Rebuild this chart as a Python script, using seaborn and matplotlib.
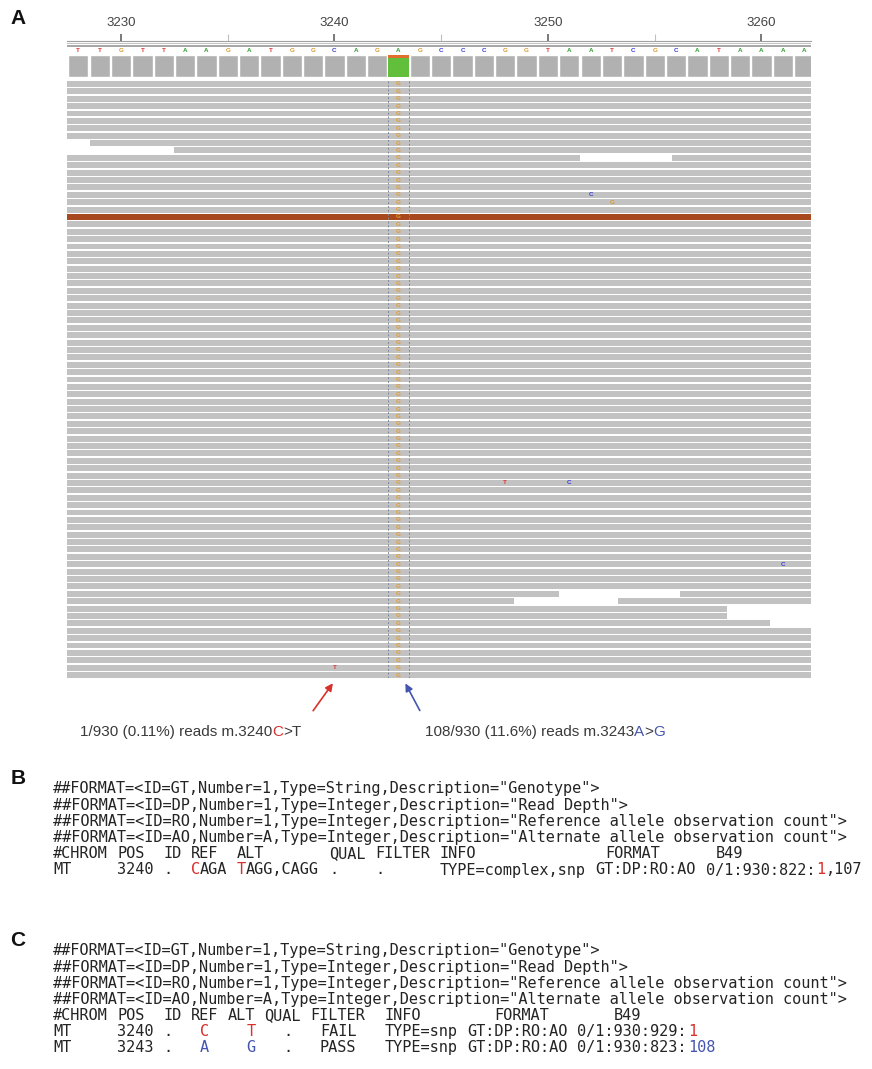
import matplotlib
matplotlib.use("Agg")
import matplotlib.pyplot as plt
import pandas as pd
import seaborn as sns

# IGV window (mitochondrial reference, rCRS)
ref_start = 3228
ref_seq = "TTGTTAAGATGGCAGAGCCCGGTAATCGCATAAAA"
view_start, view_end = 3227.47, 3262.32
major_ticks = [3230, 3240, 3250, 3260]
minor_ticks = [3235, 3245, 3255]

# coverage track
depth = 930
alt_pos = 3243
alt_count = 108
low_pos = 3240

# reads (rows of the collapsed alignment)
n_rows = 81
brown_row = 18
gap_rows = [8, 9, 10, 69, 70, 71, 72, 73]
gap_starts = [3227.47, 3227.47, 3251.5, 3250.5, 3248.4, 3258.4, 3258.4, 3260.4]
gap_ends = [3228.55, 3232.5, 3255.8, 3256.2, 3253.3, 3262.32, 3262.32, 3262.32]

# isolated mismatches in reads
mm_rows = [15, 16, 54, 54, 65, 79]
mm_pos = [3252, 3253, 3248, 3251, 3261, 3240]
mm_base = ["C", "G", "T", "C", "C", "T"]

# captions under the alignment
cap_left = [("1/930 (0.11%) reads m.3240", None), ("C", "red"), (">T", None)]
cap_right = [("108/930 (11.6%) reads m.3243", None), ("A", "blue"), (">", None), ("G", "blue")]

# VCF text
meta_lines = [
    '##FORMAT=<ID=GT,Number=1,Type=String,Description="Genotype">',
    '##FORMAT=<ID=DP,Number=1,Type=Integer,Description="Read Depth">',
    '##FORMAT=<ID=RO,Number=1,Type=Integer,Description="Reference allele observation count">',
    '##FORMAT=<ID=AO,Number=A,Type=Integer,Description="Alternate allele observation count">',
]
b_header = ["#CHROM", "POS", "ID", "REF", "ALT", "QUAL", "FILTER", "INFO", "FORMAT", "B49"]
b_header_cols = [0, 7, 12, 15, 20, 30, 35, 42, 60, 72]
b_row = ["MT", "3240", ".", "CAGA", "TAGG,CAGG", ".", ".", "TYPE=complex,snp", "GT:DP:RO:AO", "0/1:930:822:1,107"]
b_row_cols = [0, 7, 12, 15, 20, 30, 35, 42, 59, 71]
b_row_masks = {3: "r...", 4: "r........", 9: "............r...."}

c_header = ["#CHROM", "POS", "ID", "REF", "ALT", "QUAL", "FILTER", "INFO", "FORMAT", "B49"]
c_header_cols = [0, 7, 12, 15, 19, 23, 28, 36, 48, 61]
c_rows = [
    ["MT", "3240", ".", "C", "T", ".", "FAIL", "TYPE=snp", "GT:DP:RO:AO", "0/1:930:929:1"],
    ["MT", "3243", ".", "A", "G", ".", "PASS", "TYPE=snp", "GT:DP:RO:AO", "0/1:930:823:108"],
]
c_row_cols = [0, 7, 12, 16, 21, 25, 29, 36, 45, 57]
c_row_masks = [
    {3: "r", 4: "r", 9: "............r"},
    {3: "b", 4: "b", 9: "............bbb"},
]

base_colors = {"A": "#2e9e2e", "C": "#3b3bd0", "G": "#d99a2b", "T": "#e03232"}
mark_colors = {"r": "#d9302c", "b": "#4455b0", "red": "#d9302c", "blue": "#4455b0"}

sns.set_theme(style="white")
plt.rcParams["font.family"] = ["Liberation Sans", "DejaVu Sans"]

W, H = 872, 1069
fig = plt.figure(figsize=(W / 100, H / 100), dpi=100)
fig.patch.set_facecolor("white")


def px_axes(x0, y0, x1, y1):
    return fig.add_axes([x0 / W, 1 - y1 / H, (x1 - x0) / W, (y1 - y0) / H])


# background axes in pixel units, used for all free text
ax_bg = fig.add_axes([0, 0, 1, 1])
ax_bg.set_xlim(0, W)
ax_bg.set_ylim(H, 0)
ax_bg.axis("off")

for lab, (lx, ly) in zip("ABC", [(18, 19), (18, 778), (18, 940)]):
    ax_bg.text(lx, ly, lab, fontsize=15, fontweight="bold", ha="center", va="center", color="#111")

# ruler
ax_r = px_axes(67, 30, 811, 41)
ax_r.set_xlim(view_start, view_end)
ax_r.set_ylim(0, 1)
ax_r.patch.set_alpha(0)
for s in ["top", "left", "right"]:
    ax_r.spines[s].set_visible(False)
ax_r.spines["bottom"].set_color("#a0a0a0")
ax_r.spines["bottom"].set_linewidth(0.8)
ax_r.set_yticks([])
ax_r.set_xticks(major_ticks)
ax_r.set_xticks(minor_ticks, minor=True)
ax_r.tick_params(axis="x", which="major", direction="in", length=5, width=1.1, color="#555",
                 bottom=True, top=False, labelbottom=False, labeltop=True, pad=1,
                 labelsize=9.5, labelcolor="#444")
ax_r.tick_params(axis="x", which="minor", direction="in", length=5, width=0.8, color="#c0c0c0",
                 bottom=True, top=False)

# sequence track
ax_s = px_axes(67, 42, 811, 55)
ax_s.set_xlim(view_start, view_end)
ax_s.set_ylim(55, 42)
ax_s.axis("off")
ax_s.axhspan(43.2, 44.2, color="#c4c4c4", lw=0)
ax_s.axhspan(45.2, 46.8, color="#a8a8a8", lw=0)
for i, b in enumerate(ref_seq):
    ax_s.text(ref_start + i, 50.5, b, fontsize=4.5, fontweight="bold", color=base_colors[b],
              ha="center", va="center")

# coverage track
positions = list(range(ref_start, ref_start + len(ref_seq)))
cov = pd.DataFrame({"pos": positions, "depth": [depth] * len(positions)})
ax_c = px_axes(67, 55, 811, 77)
sns.barplot(data=cov, x="pos", y="depth", native_scale=True, width=0.95, color="#b1b1b1",
            saturation=1, errorbar=None, ax=ax_c)
ax_c.bar(alt_pos, depth - alt_count, width=0.95, color="#62bf3c", lw=0)
ax_c.bar(alt_pos, alt_count, bottom=depth - alt_count, width=0.95, color="#e0702c", lw=0)
ax_c.set_xlim(view_start, view_end)
ax_c.set_ylim(0, depth)
ax_c.axis("off")

# reads
ax_d = px_axes(67, 81, 811, 678)
ax_d.set_xlim(view_start, view_end)
ax_d.set_ylim(n_rows - 1 + 0.4, -0.4)
ax_d.axis("off")
gaps = pd.DataFrame({"row": gap_rows, "start": gap_starts, "end": gap_ends})
for row in range(n_rows):
    color = "#a8481e" if row == brown_row else "#c2c2c2"
    left = view_start
    for _, g in gaps[gaps["row"] == row].sort_values("start").iterrows():
        if g["start"] > left:
            ax_d.barh(row, g["start"] - left, left=left, height=0.8, color=color, lw=0)
        left = g["end"]
    if left < view_end:
        ax_d.barh(row, view_end - left, left=left, height=0.8, color=color, lw=0)
    ax_d.text(alt_pos, row, "G", fontsize=4.5, fontweight="bold", color="#e59a2c",
              ha="center", va="center")

for r, p, b in zip(mm_rows, mm_pos, mm_base):
    ax_d.text(p, r, b, fontsize=4.5, fontweight="bold", color=base_colors[b], ha="center", va="center")

for xv in [alt_pos - 0.5, alt_pos + 0.5]:
    ax_d.axvline(xv, color="#7c8796", lw=0.7, ls=(0, (2, 2)))

ybot = n_rows - 1 + 0.8
ax_d.annotate("", xy=(low_pos, ybot), xytext=(-23, -32), textcoords="offset pixels",
              annotation_clip=False,
              arrowprops=dict(arrowstyle="-|>", color=mark_colors["red"], lw=1.2, mutation_scale=11))
ax_d.annotate("", xy=(alt_pos + 0.26, ybot), xytext=(17, -32), textcoords="offset pixels",
              annotation_clip=False,
              arrowprops=dict(arrowstyle="-|>", color=mark_colors["blue"], lw=1.2, mutation_scale=11))


def rainbow(x, y, pieces):
    t = None
    for txt, col in pieces:
        c = mark_colors[col] if col else "#3a3a3a"
        if t is None:
            t = ax_bg.text(x, y, txt, fontsize=11, color=c, va="center")
        else:
            t = ax_bg.annotate(txt, xycoords=t, xy=(1, 0), va="bottom", fontsize=11, color=c)


rainbow(80, 732, cap_left)
rainbow(425, 732, cap_right)

# VCF blocks
mono = "DejaVu Sans Mono"
fs = 11
cw = fs * 100 / 72 * 0.6021
x0 = 53


def draw_fields(y, fields, cols, masks=None):
    # each field is split into runs of one colour, drawn side by side
    masks = masks or {}
    for k, (txt, col) in enumerate(zip(fields, cols)):
        mask = masks.get(k, "." * len(txt))
        start = 0
        for i in range(1, len(txt) + 1):
            if i == len(txt) or mask[i] != mask[start]:
                m = mask[start]
                color = "#242424" if m == "." else mark_colors[m]
                ax_bg.text(x0 + (col + start) * cw, y, txt[start:i], family=mono, fontsize=fs,
                           color=color, va="center")
                start = i


yb = [789 + 16.2 * i for i in range(6)]
for i, line in enumerate(meta_lines):
    draw_fields(yb[i], [line], [0])
draw_fields(yb[4], b_header, b_header_cols)
draw_fields(yb[5], b_row, b_row_cols, b_row_masks)

yc = [951 + 16.1 * i for i in range(7)]
for i, line in enumerate(meta_lines):
    draw_fields(yc[i], [line], [0])
draw_fields(yc[4], c_header, c_header_cols)
for j, row in enumerate(c_rows):
    draw_fields(yc[5 + j], row, c_row_cols, c_row_masks[j])

fig.savefig("out.png", dpi=100, facecolor="white")
